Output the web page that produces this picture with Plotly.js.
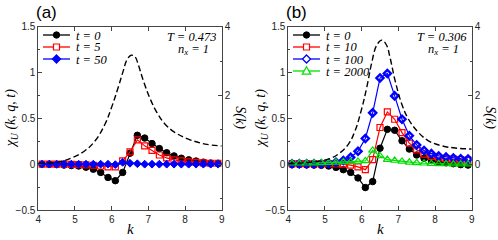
<!DOCTYPE html>
<html><head><meta charset="utf-8">
<script src="https://cdn.plot.ly/plotly-3.0.1.min.js"></script>
<style>body{margin:0;background:#fff}#c{width:498px;height:240px}</style>
</head><body><div id="c"></div>
<script>
// ---- data ----
const k = [4.1,4.3,4.5,4.7,4.9,5.1,5.3,5.5,5.7,5.9,6.1,6.3,6.5,6.7,6.9,7.1,7.3,7.5,7.7,7.9,8.1,8.3,8.5,8.7,8.9];
// panel (a)  T = 0.473
const a_t0  = [0.0,0.0,-0.005,-0.01,-0.015,-0.02,-0.033,-0.055,-0.09,-0.145,-0.18,-0.09,0.12,0.315,0.285,0.225,0.17,0.125,0.09,0.065,0.047,0.034,0.022,0.012,0.01];
const a_t5  = [0.0,0.0,0.0,0.0,-0.003,-0.005,-0.008,-0.012,-0.02,-0.03,-0.03,0.035,0.135,0.265,0.2,0.15,0.1,0.068,0.047,0.035,0.025,0.02,0.015,0.01,0.01];
const a_t50 = [0.0,0.0,0.0,0.0,0.0,0.0,0.0,0.0,0.0,0.0,-0.005,0.02,0.01,0.005,0.0,0.0,0.0,0.0,0.0,0.0,0.0,0.0,0.0,0.0,0.0];
const kS_a = [4.0,4.55,4.9,5.27,5.55,5.82,6.0,6.18,6.32,6.41,6.53,6.64,6.73,6.86,7.05,7.23,7.45,7.73,8.09,8.55,9.0];
const S_a  = [0.03,0.06,0.18,0.39,0.68,1.17,1.66,2.24,2.73,3.02,3.17,3.12,2.88,2.44,1.9,1.51,1.17,0.92,0.73,0.585,0.53];
// panel (b)  T = 0.306
const b_t0    = [-0.005,-0.005,-0.008,-0.01,-0.012,-0.02,-0.035,-0.06,-0.09,-0.15,-0.255,-0.19,0.174,0.38,0.37,0.255,0.165,0.1,0.065,0.04,0.025,0.015,0.005,-0.005,-0.01];
const b_t10   = [0.005,0.005,0.005,0.005,0.005,0.005,0.003,0.0,-0.01,-0.03,-0.06,0.05,0.4,0.57,0.49,0.345,0.23,0.156,0.11,0.085,0.07,0.06,0.055,0.05,0.045];
const b_t100  = [0.005,0.005,0.005,0.005,0.005,0.01,0.02,0.04,0.075,0.14,0.28,0.56,0.94,0.99,0.745,0.49,0.31,0.21,0.15,0.115,0.09,0.078,0.068,0.06,0.055];
const b_t2000 = [0.01,0.01,0.01,0.012,0.015,0.018,0.02,0.025,0.025,0.03,0.035,0.15,0.09,0.05,0.04,0.03,0.02,0.015,0.01,0.005,0.003,0.002,0.0,0.0,0.0];
const kS_b = [4.0,4.55,5.09,5.36,5.64,5.82,6.0,6.14,6.27,6.41,6.55,6.68,6.77,6.91,7.09,7.27,7.55,7.82,8.18,8.55,9.0];
const S_b  = [0.02,0.05,0.146,0.29,0.585,0.97,1.61,2.24,2.93,3.46,3.61,3.46,3.12,2.44,1.76,1.32,0.92,0.68,0.535,0.47,0.44];
// labels
const xTickVals = [4,5,6,7,8,9];
const sTickVals = [0,2,4];
const legendA = ['t = 0','t = 5','t = 50'];
const legendB = ['t = 0','t = 10','t = 100','t = 2000'];
const tempA = 'T = 0.473', tempB = 'T = 0.306';

// ---- styles ----
const W = 498, H = 240;
const X = p => p / W, Y = p => 1 - p / H;
const serif = 'Liberation Serif', sans = 'Liberation Sans';
const stA = [
  {c:'#000000', sym:'circle', size:6.5, lw:1.2, mlw:1},
  {c:'#ff0000', sym:'square-open', size:6, lw:1.2, mlw:1.2},
  {c:'#0000ff', sym:'diamond', size:6, lw:1.2, mlw:1}
];
const stB = [
  {c:'#000000', sym:'circle', size:6.5, lw:1.2, mlw:1},
  {c:'#ff0000', sym:'square-open', size:6, lw:1.2, mlw:1.2},
  {c:'#0000ff', sym:'diamond-open', size:5.5, lw:1.2, mlw:2.4},
  {c:'#00e000', sym:'triangle-up-open', size:7, lw:1.2, mlw:1.2}
];
function tr(y, st, xa, ya, name){
  return {x:k, y:y, xaxis:xa, yaxis:ya, name:name, type:'scatter', mode:'lines+markers', showlegend:false,
    line:{color:st.c, width:st.lw},
    marker:{symbol:st.sym, size:st.size, color:st.c, line:{color:st.c, width:st.mlw}}};
}
function dash(xs, ys, xa, ya){
  return {x:xs, y:ys, xaxis:xa, yaxis:ya, type:'scatter', mode:'lines', showlegend:false,
    line:{color:'#000', width:1.4, dash:'6px,3px', shape:'spline', smoothing:1.1}};
}
const data = [
  dash(kS_a, S_a, 'x', 'y2'),
  tr(a_t0, stA[0], 'x', 'y', legendA[0]),
  tr(a_t5, stA[1], 'x', 'y', legendA[1]),
  tr(a_t50, stA[2], 'x', 'y', legendA[2]),
  dash(kS_b, S_b, 'x2', 'y4'),
  tr(b_t0, stB[0], 'x2', 'y3', legendB[0]),
  tr(b_t10, stB[1], 'x2', 'y3', legendB[1]),
  tr(b_t100, stB[2], 'x2', 'y3', legendB[2]),
  tr(b_t2000, stB[3], 'x2', 'y3', legendB[3])
];

const axc = '#444';
const ydom = [30/H, 1 - 26.7/H];
function xax(dom, ya){
  return {domain:dom, anchor:ya, range:[4,9], tickvals:xTickVals, ticks:'inside', ticklen:4, tickcolor:axc,
    showline:true, linecolor:axc, linewidth:1, mirror:'ticks', zeroline:false, showgrid:false,
    tickfont:{family:sans, size:10, color:'#222'}};
}
function yl(xa){
  return {domain:ydom, anchor:xa, range:[-0.5,1.5], dtick:0.5, tick0:0, ticks:'inside', ticklen:4, tickcolor:axc,
    minor:{dtick:0.25, ticks:'inside', ticklen:2, tickcolor:axc, showgrid:false},
    showline:true, linecolor:axc, linewidth:1, zeroline:false, showgrid:false,
    tickfont:{family:sans, size:10, color:'#222'}};
}
function yr(xa, ov){
  return {overlaying:ov, anchor:xa, side:'right', range:[-4/3,4], tickvals:sTickVals, ticks:'inside', ticklen:4, tickcolor:axc,
    minor:{dtick:1, ticks:'inside', ticklen:2, tickcolor:axc, showgrid:false},
    showline:true, linecolor:axc, linewidth:1, zeroline:false, showgrid:false,
    tickfont:{family:sans, size:10, color:'#222'}};
}

const ann = [];
const shapes = [];
function txt(x, y, t, opt){
  ann.push(Object.assign({xref:'paper', yref:'paper', x:X(x), y:Y(y), text:t, showarrow:false,
    xanchor:'center', yanchor:'middle', font:{family:serif, size:13, color:'#000'}}, opt||{}));
}
function panelTexts(x0, lbl, temp, lx0, names, styles){
  const x1 = x0 + 183.4;
  txt(x0 + 8, 12, lbl, {font:{family:sans, size:17, color:'#000'}});
  txt(x0 + (x1 - x0)/2, 229, '<i>k</i>', {font:{family:serif, size:15, color:'#000'}});
  txt(x0 - 27, 118, '<i>χ<sub>U</sub> (k, q, t)</i>', {textangle:-90, font:{family:serif, size:14, color:'#000'}});
  txt(x1 + 18, 118, '<i>S(k)</i>', {textangle:90, font:{family:serif, size:14, color:'#000'}});
  txt(x1 - 3, 36.5, '<i>' + temp + '</i>', {xanchor:'right', height:11, font:{family:serif, size:12.5, color:'#000'}});
  txt(x1 - 46, 49.5, '<i>n<sub>x</sub> = 1</i>', {xanchor:'left', height:11, font:{family:serif, size:12.5, color:'#000'}});
  names.forEach((n, i) => {
    const yy = 35 + 12*i, st = styles[i];
    shapes.push({type:'line', xref:'paper', yref:'paper', x0:X(lx0), x1:X(lx0+27), y0:Y(yy), y1:Y(yy), line:{color:st.c, width:1.3}});
    const cx = lx0 + 13.5, r = 3.2;
    if (st.sym === 'circle') {
      shapes.push({type:'circle', xref:'paper', yref:'paper', x0:X(cx-r), x1:X(cx+r), y0:Y(yy-r), y1:Y(yy+r), fillcolor:st.c, line:{color:st.c, width:1}});
    } else if (st.sym === 'square-open') {
      shapes.push({type:'rect', xref:'paper', yref:'paper', x0:X(cx-3), x1:X(cx+3), y0:Y(yy-3), y1:Y(yy+3), fillcolor:'#fff', line:{color:st.c, width:1.2}});
    } else if (st.sym.startsWith('diamond')) {
      const p = `M${X(cx)},${Y(yy-4)} L${X(cx+4)},${Y(yy)} L${X(cx)},${Y(yy+4)} L${X(cx-4)},${Y(yy)} Z`;
      shapes.push({type:'path', xref:'paper', yref:'paper', path:p, fillcolor: st.sym==='diamond'? st.c : '#fff', line:{color:st.c, width:1.3}});
    } else {
      const p = `M${X(cx)},${Y(yy-4.2)} L${X(cx+4.2)},${Y(yy+3.2)} L${X(cx-4.2)},${Y(yy+3.2)} Z`;
      shapes.push({type:'path', xref:'paper', yref:'paper', path:p, fillcolor:'#fff', line:{color:st.c, width:1.2}});
    }
    txt(lx0 + 31, yy, '<i>' + n + '</i>', {xanchor:'left', height:11, font:{family:serif, size:12.5, color:'#000'}});
  });
}
panelTexts(38.3, '(a)', tempA, 43, legendA, stA);
panelTexts(288.3, '(b)', tempB, 293, legendB, stB);

const layout = {
  width:W, height:H, margin:{l:0, r:0, t:0, b:0}, showlegend:false,
  paper_bgcolor:'#fff', plot_bgcolor:'rgba(0,0,0,0)',
  xaxis: xax([38.3/W, 221.7/W], 'y'),
  yaxis: yl('x'),
  yaxis2: yr('x', 'y'),
  xaxis2: xax([288.3/W, 471.7/W], 'y3'),
  yaxis3: yl('x2'),
  yaxis4: yr('x2', 'y3'),
  annotations: ann, shapes: shapes
};
Plotly.newPlot('c', data, layout, {staticPlot:true});
</script></body></html>
